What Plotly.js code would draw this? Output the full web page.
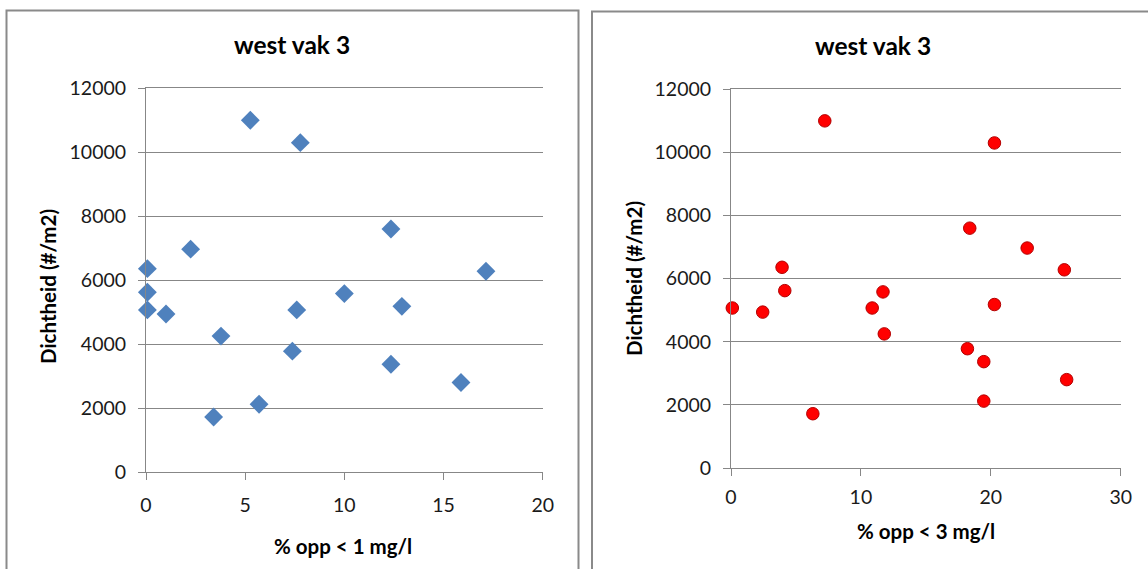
<!DOCTYPE html>
<html>
<head>
<meta charset="utf-8">
<script src="https://cdn.plot.ly/plotly-3.0.1.min.js"></script>
<style>
html,body{margin:0;padding:0;background:#fff;}
#chart{width:1148px;height:569px;}
</style>
</head>
<body>
<div id="chart"></div>
<script>
// Data
const dichtheid = [11000, 10300, 7600, 6970, 6360, 6280, 5620, 5580, 5070, 4940, 5070, 5180, 4250, 3780, 3370, 2800, 2120, 1720];
const oppLt1 = [5.26, 7.78, 12.35, 2.25, 0.07, 17.14, 0.07, 10.0, 0.07, 1.01, 7.6, 12.9, 3.78, 7.38, 12.35, 15.88, 5.70, 3.41];
const oppLt3 = [7.22, 20.28, 18.38, 22.8, 3.93, 25.66, 4.14, 11.7, 0.1, 2.44, 10.87, 20.28, 11.8, 18.2, 19.46, 25.84, 19.46, 6.3];

const chartTitle = "west vak 3";
const yTitle = "Dichtheid (#/m2)";
const xTitleLeft = "% opp < 1 mg/l";
const xTitleRight = "% opp < 3 mg/l";

const W = 1148, H = 569;
const FONT = "Lato, 'Open Sans', sans-serif";
const GRAY = "#878787";
const px = v => v / W;
const py = v => 1 - v / H;

const axisBase = {
  showline: true, linecolor: GRAY, linewidth: 1,
  ticks: "outside", ticklen: 7, tickcolor: GRAY, tickwidth: 1,
  zeroline: false, fixedrange: true,
  tickfont: {family: FONT, size: 19.5, color: "#1a1a1a"}
};

const traces = [
  {
    x: oppLt1, y: dichtheid, type: "scatter", mode: "markers",
    xaxis: "x", yaxis: "y", cliponaxis: false,
    marker: {symbol: "diamond", size: 14.5, color: "#4f81bd", line: {width: 0}},
    hoverinfo: "x+y"
  },
  {
    x: oppLt3, y: dichtheid, type: "scatter", mode: "markers",
    xaxis: "x2", yaxis: "y2", cliponaxis: false,
    marker: {symbol: "circle", size: 12.5, color: "#ff0000", line: {width: 1, color: "#b30000"}},
    hoverinfo: "x+y"
  }
];

const layout = {
  width: W, height: H,
  margin: {l: 0, r: 0, t: 0, b: 0},
  paper_bgcolor: "#ffffff", plot_bgcolor: "rgba(0,0,0,0)",
  showlegend: false,
  font: {family: FONT, color: "#000"},
  xaxis: Object.assign({}, axisBase, {
    domain: [px(146), px(542.7)], range: [0, 20], dtick: 5, tick0: 0,
    showgrid: false, anchor: "y", mirror: true, ticklabelstandoff: 9
  }),
  yaxis: Object.assign({}, axisBase, {
    domain: [py(472), py(88.3)], range: [0, 12000], dtick: 2000, tick0: 0, tickformat: "d",
    showgrid: true, gridcolor: GRAY, gridwidth: 1, anchor: "x", ticklabelstandoff: 8
  }),
  xaxis2: Object.assign({}, axisBase, {
    domain: [px(731), px(1120.7)], range: [0, 30], dtick: 10, tick0: 0,
    showgrid: false, anchor: "y2", mirror: true, ticklabelstandoff: 5
  }),
  yaxis2: Object.assign({}, axisBase, {
    domain: [py(468), py(89.3)], range: [0, 12000], dtick: 2000, tick0: 0, tickformat: "d",
    showgrid: true, gridcolor: GRAY, gridwidth: 1, anchor: "x2", ticklabelstandoff: 8
  }),
  shapes: [
    {type: "rect", xref: "paper", yref: "paper", x0: px(6.5), x1: px(578.5), y0: py(580), y1: py(10.5),
     line: {color: "#8a8a8a", width: 2}, fillcolor: "rgba(0,0,0,0)", layer: "below"},
    {type: "rect", xref: "paper", yref: "paper", x0: px(592), x1: px(1160), y0: py(580), y1: py(11.5),
     line: {color: "#8a8a8a", width: 2}, fillcolor: "rgba(0,0,0,0)", layer: "below"}
  ],
  annotations: [
    {text: "<b>" + chartTitle + "</b>", xref: "paper", yref: "paper", x: px(292), y: py(44),
     xanchor: "center", yanchor: "middle", showarrow: false, font: {family: FONT, size: 24.5, color: "#000"}},
    {text: "<b>" + chartTitle + "</b>", xref: "paper", yref: "paper", x: px(873), y: py(46),
     xanchor: "center", yanchor: "middle", showarrow: false, font: {family: FONT, size: 24.5, color: "#000"}},
    {text: "<b>" + xTitleLeft + "</b>", xref: "paper", yref: "paper", x: px(343), y: py(546),
     xanchor: "center", yanchor: "middle", showarrow: false, font: {family: FONT, size: 20.5, color: "#000"}},
    {text: "<b>" + xTitleRight + "</b>", xref: "paper", yref: "paper", x: px(926), y: py(531),
     xanchor: "center", yanchor: "middle", showarrow: false, font: {family: FONT, size: 20.5, color: "#000"}},
    {text: "<b>" + yTitle + "</b>", xref: "paper", yref: "paper", x: px(48), y: py(287), textangle: -90,
     xanchor: "center", yanchor: "middle", showarrow: false, font: {family: FONT, size: 20.5, color: "#000"}},
    {text: "<b>" + yTitle + "</b>", xref: "paper", yref: "paper", x: px(634), y: py(279), textangle: -90,
     xanchor: "center", yanchor: "middle", showarrow: false, font: {family: FONT, size: 20.5, color: "#000"}}
  ]
};

Plotly.newPlot("chart", traces, layout, {displayModeBar: false, staticPlot: true});
</script>
</body>
</html>
